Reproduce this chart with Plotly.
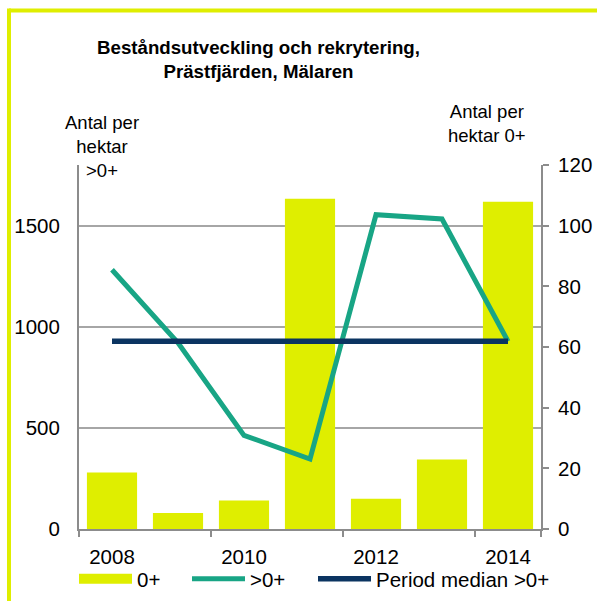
import numpy as np
import plotly.graph_objects as go

# Data
years = ["2008", "2009", "2010", "2011", "2012", "2013", "2014"]
juveniles_0 = [18.6, 5.3, 9.4, 108.9, 10.0, 22.9, 107.9]        # 0+, right axis
older_gt0 = [1282, 921, 463, 346, 1554, 1533, 928]               # >0+, left axis
median_gt0 = float(np.median(older_gt0))
label_years = ["2008", "2010", "2012", "2014"]

YELLOW = "#DFEE00"
TEAL = "#18A585"
NAVY = "#0B3461"
GRID = "#A6A6A6"
AXIS = "#8C8C8C"
FONT = "Liberation Sans, Arial, sans-serif"

W, H = 597, 601
L, R, T, B = 79, 56, 165, 72
pw, ph = W - L - R, H - T - B


def px(x):
    return (x - L) / pw


def py(y):
    return (H - B - y) / ph


fig = go.Figure()

# bars sit on the base (right) axis so the lines on the overlay are drawn above them
fig.add_trace(go.Bar(
    x=years, y=juveniles_0, name="0+", marker=dict(color=YELLOW, line=dict(width=0)),
    showlegend=False,
))
# legend swatch for the bars
fig.add_trace(go.Scatter(
    x=[None], y=[None], mode="lines", name="0+",
    line=dict(color=YELLOW, width=11), legend="legend",
))
fig.add_trace(go.Scatter(
    x=years, y=older_gt0, mode="lines", name=">0+",
    line=dict(color=TEAL, width=5), yaxis="y2", legend="legend2",
))
fig.add_trace(go.Scatter(
    x=years, y=[median_gt0] * len(years), mode="lines", name="Period median >0+",
    line=dict(color=NAVY, width=5.5), yaxis="y2", legend="legend3",
))

legend_style = dict(
    orientation="h", y=py(579), xanchor="left", yanchor="middle",
    font=dict(size=20.5), itemwidth=53, bgcolor="rgba(0,0,0,0)",
)

fig.update_layout(
    width=W, height=H,
    margin=dict(l=L, r=R, t=T, b=B, autoexpand=False),
    paper_bgcolor="white", plot_bgcolor="white",
    font=dict(family=FONT, size=20.5, color="black"),
    bargap=0.24,
    xaxis=dict(
        type="category", tickmode="array", tickvals=label_years,
        tickson="boundaries", ticks="outside", ticklen=6, tickwidth=2, tickcolor=AXIS,
        showline=True, linecolor=AXIS, linewidth=2, showgrid=False,
        ticklabelstandoff=8,
    ),
    yaxis=dict(
        range=[0, 120], dtick=20, side="right", showgrid=False,
        showline=True, linecolor=AXIS, linewidth=2, ticks="outside", ticklen=6,
        tickwidth=2, tickcolor=AXIS, zeroline=False, ticklabelstandoff=5,
    ),
    yaxis2=dict(
        range=[0, 1800], tickvals=[0, 500, 1000, 1500], overlaying="y", side="left",
        showgrid=True, gridcolor=GRID, gridwidth=1.5, showline=True, linecolor=AXIS,
        linewidth=2, ticks="", zeroline=False, ticklabelstandoff=13,
    ),
    legend=dict(x=px(74), **legend_style),
    legend2=dict(x=px(187), **legend_style),
    legend3=dict(x=px(313), **legend_style),
)

fig.add_annotation(
    text="<b>Beståndsutveckling och rekrytering,<br>Prästfjärden, Mälaren</b>",
    xref="paper", yref="paper", x=px(258), y=py(59.5), xanchor="center", yanchor="middle",
    showarrow=False, font=dict(size=18.7), align="center",
)
fig.add_annotation(
    text="Antal per<br>hektar<br>>0+", xref="paper", yref="paper", x=px(102), y=py(146),
    xanchor="center", yanchor="middle", showarrow=False, align="center", font=dict(size=18.5),
)
fig.add_annotation(
    text="Antal per<br>hektar 0+", xref="paper", yref="paper", x=px(487), y=py(124),
    xanchor="center", yanchor="middle", showarrow=False, align="center", font=dict(size=18.5),
)

# yellow frame (top and left edges visible in the crop)
fig.add_shape(type="line", xref="paper", yref="paper", x0=px(9), x1=px(620), y0=py(10.5), y1=py(10.5),
              line=dict(color=YELLOW, width=4))
fig.add_shape(type="line", xref="paper", yref="paper", x0=px(9), x1=px(9), y0=py(8.5), y1=py(640),
              line=dict(color=YELLOW, width=4))

# drop the browser's default body margin so the figure starts at the page corner
fig.write_html("out.html", config={"displayModeBar": False},
               post_script="document.body.style.margin='0px';")
